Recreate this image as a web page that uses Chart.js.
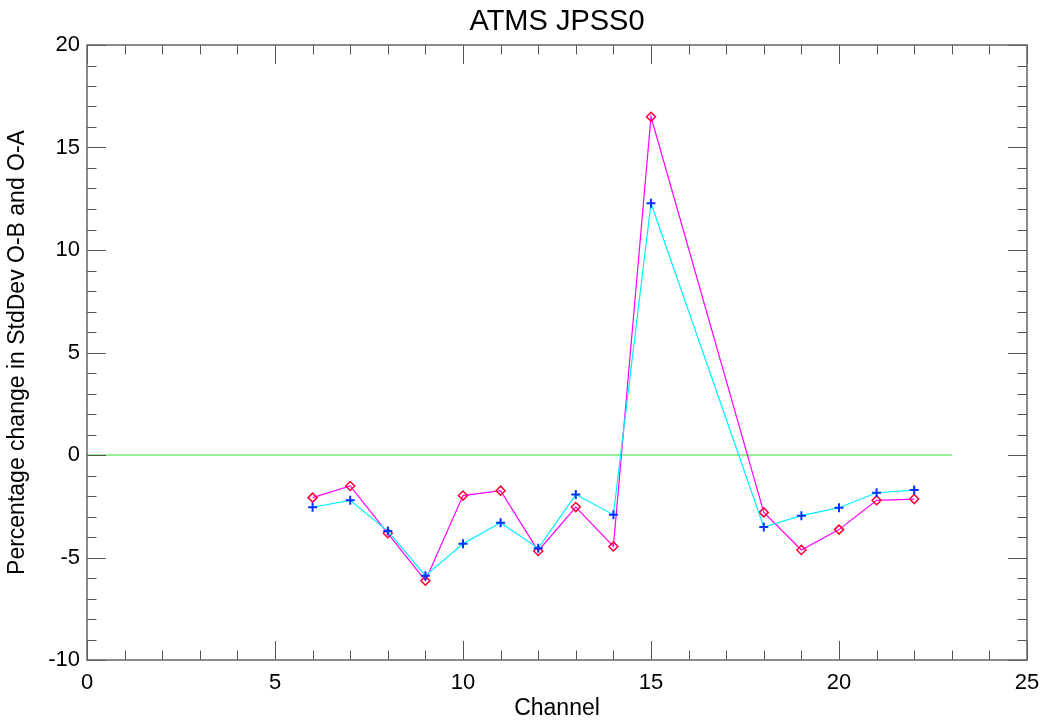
<!DOCTYPE html>
<html>
<head>
<meta charset="utf-8">
<title>ATMS JPSS0</title>
<script src="https://cdn.jsdelivr.net/npm/chart.js@4"></script>
<style>
  html, body { margin: 0; padding: 0; background: #fff; }
  #chart { display: block; }
</style>
</head>
<body>
<canvas id="chart" width="1043" height="720"></canvas>
<script>
// channels plotted (16 and 17 are missing in the source)
const channels = [6, 7, 8, 9, 10, 11, 12, 13, 14, 15, 18, 19, 20, 21, 22];

// percentage change in StdDev of O-B (diamonds) and O-A (crosses)
const obChange = [-2.08, -1.51, -3.82, -6.13, -1.98, -1.74, -4.68, -2.54, -4.46, 16.5, -2.80, -4.63, -3.64, -2.21, -2.15];
const oaChange = [-2.55, -2.21, -3.71, -5.89, -4.33, -3.30, -4.55, -1.93, -2.91, 12.28, -3.51, -2.96, -2.57, -1.84, -1.71];

// reference line at zero
const zeroX = [0, 23];
const zeroY = [0, 0];

const xTicks = [0, 5, 10, 15, 20, 25];
const yTicks = [-10, -5, 0, 5, 10, 15, 20];

const titleText = 'ATMS JPSS0';

const FONT = '"Liberation Sans", Arial, Helvetica, sans-serif';

const toPoints = (xs, ys) => xs.map((x, i) => ({ x: x, y: ys[i] }));

// IDL-style box with inward ticks on all four sides, title centred on the plot
const boxTicks = {
    id: 'boxTicks',
    afterDraw(chart) {
        const { ctx, chartArea: a, scales } = chart;
        const xs = scales.x, ys = scales.y;
        const major = 19, minor = 9.5;
        ctx.save();
        ctx.strokeStyle = '#555';
        ctx.lineWidth = 1;
        ctx.beginPath();
        for (let v = 0; v <= 25; v++) {
            const px = Math.round(xs.getPixelForValue(v)) + 0.5;
            const len = v % 5 === 0 ? major : minor;
            ctx.moveTo(px, a.bottom); ctx.lineTo(px, a.bottom - len);
            ctx.moveTo(px, a.top); ctx.lineTo(px, a.top + len);
        }
        for (let v = -10; v <= 20; v++) {
            const py = Math.round(ys.getPixelForValue(v)) + 0.5;
            const len = v % 5 === 0 ? major : minor;
            ctx.moveTo(a.left, py); ctx.lineTo(a.left + len, py);
            ctx.moveTo(a.right, py); ctx.lineTo(a.right - len, py);
        }
        ctx.stroke();
        ctx.strokeStyle = '#666';
        ctx.lineWidth = 1.5;
        ctx.strokeRect(a.left, a.top, a.right - a.left, a.bottom - a.top);

        ctx.fillStyle = '#000';
        ctx.font = '29px ' + FONT;
        ctx.textAlign = 'center';
        ctx.textBaseline = 'middle';
        ctx.fillText(titleText, (a.left + a.right) / 2, 22);
        ctx.restore();
    }
};

new Chart(document.getElementById('chart'), {
    type: 'line',
    data: {
        datasets: [
            {
                label: 'zero',
                data: toPoints(zeroX, zeroY),
                borderColor: '#33dd33',
                borderWidth: 1,
                pointRadius: 0,
                order: 3
            },
            {
                label: 'O-B',
                data: toPoints(channels, obChange),
                borderColor: '#ff00ff',
                borderWidth: 1.2,
                pointStyle: 'rectRot',
                pointRadius: 4.5,
                pointBorderColor: '#ff0033',
                pointBackgroundColor: 'rgba(0,0,0,0)',
                pointBorderWidth: 1.5,
                order: 2
            },
            {
                label: 'O-A',
                data: toPoints(channels, oaChange),
                borderColor: '#00f0ff',
                borderWidth: 1.2,
                pointStyle: 'cross',
                pointRadius: 4.5,
                pointBorderColor: '#0033ff',
                pointBorderWidth: 2,
                order: 1
            }
        ]
    },
    options: {
        responsive: false,
        animation: false,
        layout: { padding: { left: 0, right: 16, top: 45, bottom: 0 } },
        plugins: {
            legend: { display: false },
            tooltip: { enabled: false },
            title: { display: false }
        },
        scales: {
            x: {
                type: 'linear',
                min: 0,
                max: 25,
                afterBuildTicks: (s) => { s.ticks = xTicks.map(v => ({ value: v })); },
                afterFit: (s) => { s.height = 60; s.paddingLeft = 0; s.paddingRight = 0; },
                ticks: {
                    color: '#000',
                    padding: 10,
                    maxRotation: 0,
                    font: { family: FONT, size: 22 }
                },
                grid: { display: false, drawTicks: false },
                border: { display: false },
                title: {
                    display: true,
                    text: 'Channel',
                    color: '#000',
                    padding: { top: 0, bottom: -2 },
                    font: { family: FONT, size: 23 }
                }
            },
            y: {
                type: 'linear',
                min: -10,
                max: 20,
                afterBuildTicks: (s) => { s.ticks = yTicks.map(v => ({ value: v })); },
                afterFit: (s) => { s.width = 87; s.paddingTop = 0; s.paddingBottom = 0; },
                ticks: {
                    color: '#000',
                    padding: 7,
                    font: { family: FONT, size: 22 }
                },
                grid: { display: false, drawTicks: false },
                border: { display: false },
                title: {
                    display: true,
                    text: 'Percentage change in StdDev O-B and O-A',
                    color: '#000',
                    padding: { top: 4, bottom: 0 },
                    font: { family: FONT, size: 23 }
                }
            }
        }
    },
    plugins: [boxTicks]
});
</script>
</body>
</html>
